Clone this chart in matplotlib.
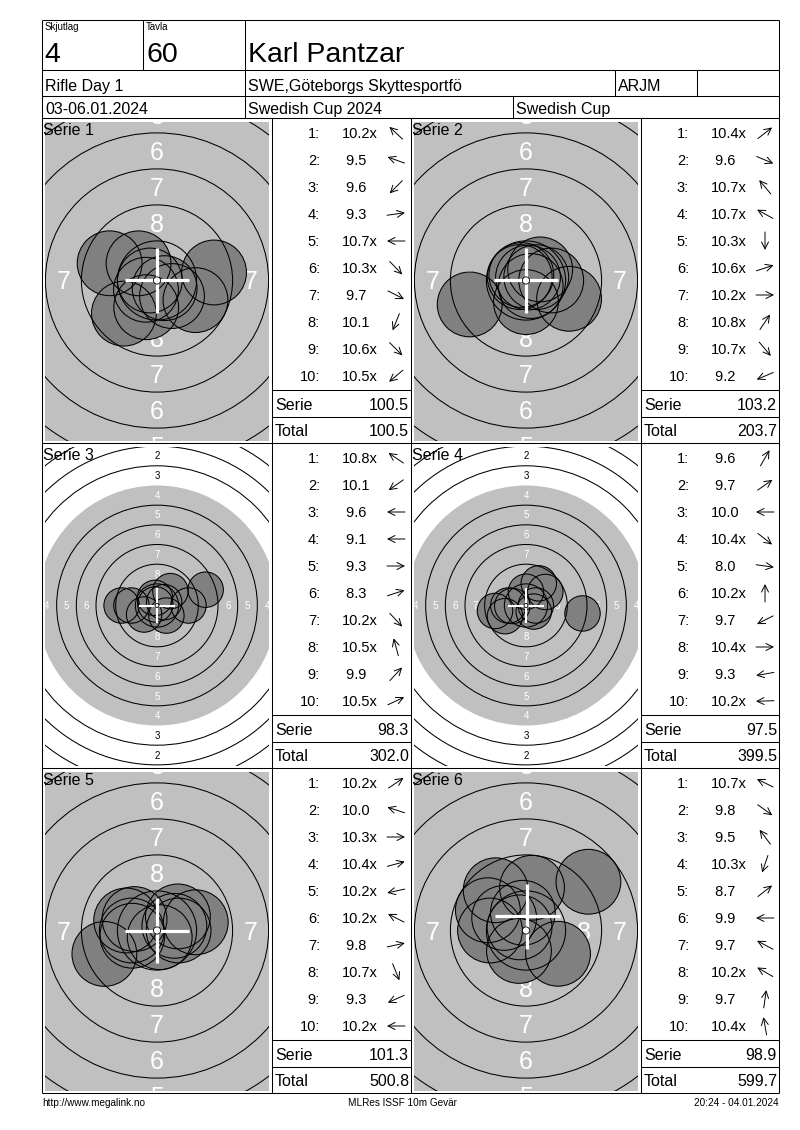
import numpy as np
import matplotlib.pyplot as plt
from matplotlib.patches import Circle

plt.rcParams['font.family'] = ['Liberation Sans', 'DejaVu Sans']

# header / footer texts
squad = "4"
lane = "60"
shooter = "Karl Pantzar"
event = "Rifle Day 1"
club = "SWE,Göteborgs Skyttesportfö"
shooter_class = "ARJM"
dates = "03-06.01.2024"
competition = "Swedish Cup 2024"
cup = "Swedish Cup"
footer_left = "http://www.megalink.no"
footer_mid = "MLRes ISSF 10m Gevär"
footer_right = "20:24 - 04.01.2024"

series_names = ["Serie 1", "Serie 2", "Serie 3", "Serie 4", "Serie 5", "Serie 6"]

# shot scores as printed, and arrow direction (deg, 0 = right, 90 = up)
scores_s1 = ["10.2x", "9.5", "9.6", "9.3", "10.7x", "10.3x", "9.7", "10.1", "10.6x", "10.5x"]
dirs_s1 = [137, 160, 225, 8, 180, 314, 333, 248, 315, 220]
scores_s2 = ["10.4x", "9.6", "10.7x", "10.7x", "10.3x", "10.6x", "10.2x", "10.8x", "10.7x", "9.2"]
dirs_s2 = [38, 337, 130, 151, 270, 18, 0, 56, 310, 203]
scores_s3 = ["10.8x", "10.1", "9.6", "9.1", "9.3", "8.3", "10.2x", "10.5x", "9.9", "10.5x"]
dirs_s3 = [146, 215, 180, 180, 0, 18, 313, 105, 47, 25]
scores_s4 = ["9.6", "9.7", "10.0", "10.4x", "8.0", "10.2x", "9.7", "10.4x", "9.3", "10.2x"]
dirs_s4 = [60, 35, 180, 322, 352, 90, 207, 0, 190, 182]
scores_s5 = ["10.2x", "10.0", "10.3x", "10.4x", "10.2x", "10.2x", "9.8", "10.7x", "9.3", "10.2x"]
dirs_s5 = [34, 162, 0, 15, 192, 153, 12, 292, 204, 180]
scores_s6 = ["10.7x", "9.8", "9.5", "10.3x", "8.7", "9.9", "9.7", "10.2x", "9.7", "10.4x"]
dirs_s6 = [154, 324, 127, 251, 38, 180, 152, 150, 82, 100]

# group centre (white cross) per series, mm right / up of the target centre
group_x = [0.0, 0.0, 0.0, 0.0, 0.0, 0.1]
group_y = [0.0, 0.0, 0.0, 0.0, 0.0, 1.0]

serie_sum = [100.5, 103.2, 98.3, 97.5, 101.3, 98.9]
running_total = [100.5, 203.7, 302.0, 399.5, 500.8, 599.7]

all_scores = [scores_s1, scores_s2, scores_s3, scores_s4, scores_s5, scores_s6]
all_dirs = [dirs_s1, dirs_s2, dirs_s3, dirs_s4, dirs_s5, dirs_s6]

# ISSF 10m air rifle target geometry (mm)
ring_r = {n: 0.25 + (10 - n) * 2.5 for n in range(1, 11)}
black_r = ring_r[4]
shot_r = 2.25
zoomed = [True, True, False, False, True, True]

W, H = 800, 1130
fig = plt.figure(figsize=(W / 100, H / 100), dpi=100)
ax = fig.add_axes([0, 0, 1, 1])
ax.set_xlim(0, W)
ax.set_ylim(H, 0)
ax.axis('off')

LW = 0.75
L, R = 42, 779


def put(a, x, y, s, fs, up=False, scale=1.0, **kw):
    # place text so that its digits/capitals are centred on y
    off = 0.36 * fs * 100 / 72 / scale
    yb = y - off if up else y + off
    return a.text(x, yb, s, fontsize=fs, va='baseline', **kw)


def hline(y, x0=L, x1=R):
    ax.plot([x0, x1], [y, y], color='black', lw=LW, solid_capstyle='butt')


def vline(x, y0, y1):
    ax.plot([x, x], [y0, y1], color='black', lw=LW, solid_capstyle='butt')


# header grid
for y in [20, 70, 96, 118]:
    hline(y)
vline(L, 20, 1093)
vline(R, 20, 1093)
vline(143, 20, 70)
vline(245, 20, 118)
vline(615, 70, 96)
vline(697, 70, 96)
vline(513, 96, 118)

put(ax, 45, 27, "Skjutlag", 7)
put(ax, 146, 27, "Tavla", 7)
put(ax, 44, 52, squad, 20.5)
put(ax, 146, 52, lane, 20.5)
put(ax, 248, 52, shooter, 20.5)
put(ax, 45, 85, event, 11.5)
put(ax, 248, 85, club, 11.5)
put(ax, 618, 85, shooter_class, 11.5)
put(ax, 45, 108, dates, 11.5)
put(ax, 248, 108, competition, 11.5)
put(ax, 516, 108, cup, 11.5)

put(ax, 42, 1102, footer_left, 7.2)
put(ax, 402, 1102, footer_mid, 7.2, ha='center')
put(ax, 779, 1102, footer_right, 7.2, ha='right')

# panel grid
col_x = [(42, 272, 411), (411, 641, 779)]
PH = 325
for x in [272, 411, 641]:
    vline(x, 118, 1093)
for k in range(1, 4):
    hline(118 + k * PH)

for i in range(6):
    row, col = divmod(i, 2)
    top = 118 + row * PH
    tx0, tx1, tx2 = col_x[col]
    sc = all_scores[i]
    dr = np.radians(all_dirs[i])
    vals = np.array([float(s.rstrip('x')) for s in sc])

    # ---- table
    for j, s in enumerate(sc):
        y = top + 15 + j * 27
        put(ax, tx1 + 48, y, f"{j + 1}:", 10.5, ha='right')
        label = s if vals[j] >= 10 else " " + s
        put(ax, tx1 + 70, y, label, 10.5)
        cx_a = tx1 + 124
        dx, dy = 9 * np.cos(dr[j]), -9 * np.sin(dr[j])
        ax.annotate('', xy=(cx_a + dx, y + dy), xytext=(cx_a - dx, y - dy),
                    arrowprops=dict(arrowstyle='->,head_length=0.5,head_width=0.25',
                                    lw=0.7, color='black', shrinkA=0, shrinkB=0))
    hline(top + 272, tx1, tx2)
    hline(top + 299, tx1, tx2)
    put(ax, tx1 + 3, top + 286, "Serie", 11.5)
    put(ax, tx2 - 2, top + 286, f"{serie_sum[i]:.1f}", 11.5, ha='right')
    put(ax, tx1 + 3, top + 312, "Total", 11.5)
    put(ax, tx2 - 2, top + 312, f"{running_total[i]:.1f}", 11.5, ha='right')

    # ---- target
    s = 14.4 if zoomed[i] else 7.87  # px per mm
    cx, cy = (tx0 + tx1) / 2, top + 162.5
    x0, x1 = tx0 + 3, tx1 - 3
    y0, y1 = top + 4, top + 323
    ta = fig.add_axes([x0 / W, 1 - y1 / H, (x1 - x0) / W, (y1 - y0) / H])
    ta.set_xlim((x0 - cx) / s, (x1 - cx) / s)
    ta.set_ylim((cy - y1) / s, (cy - y0) / s)
    ta.axis('off')
    ta.add_patch(Circle((0, 0), black_r, facecolor='#c0c0c0', edgecolor='none', zorder=1))

    fs = 18 if zoomed[i] else 7
    for n in range(1, 9):
        rm = (ring_r[n] + ring_r[n + 1]) / 2
        c = 'white' if n >= 4 else 'black'
        for px, py in [(0, rm), (0, -rm), (rm, 0), (-rm, 0)]:
            put(ta, px, py, str(n), fs, up=True, scale=s, color=c, ha='center',
                clip_on=True, zorder=2)

    d = (10.9 - vals) * 2.5
    xs, ys = d * np.cos(dr), d * np.sin(dr)
    for x, y in zip(xs, ys):
        ta.add_patch(Circle((x, y), shot_r, facecolor='#808080', edgecolor='none', zorder=3))
    for n in range(1, 10):
        if n == 4:
            continue  # edge of the black is just the grey disc
        ta.add_patch(Circle((0, 0), ring_r[n], facecolor='none', edgecolor='black',
                            lw=LW, zorder=4))
    for x, y in zip(xs, ys):
        ta.add_patch(Circle((x, y), shot_r, facecolor='none', edgecolor='black',
                            lw=LW, zorder=5))
    mx, my = group_x[i], group_y[i]
    clw = 2.3 if zoomed[i] else 1.5
    ta.plot([mx - shot_r, mx + shot_r], [my, my], color='white', lw=clw, zorder=6,
            solid_capstyle='butt')
    ta.plot([mx, mx], [my - shot_r, my + shot_r], color='white', lw=clw, zorder=6,
            solid_capstyle='butt')
    ta.add_patch(Circle((0, 0), ring_r[10], facecolor='white', edgecolor='black',
                        lw=0.6, zorder=7))

    put(ta, tx0 + 1, top + 11, series_names[i], 11.5, transform=ax.transData,
        clip_on=False, zorder=8)

fig.savefig('out.png', dpi=100)
